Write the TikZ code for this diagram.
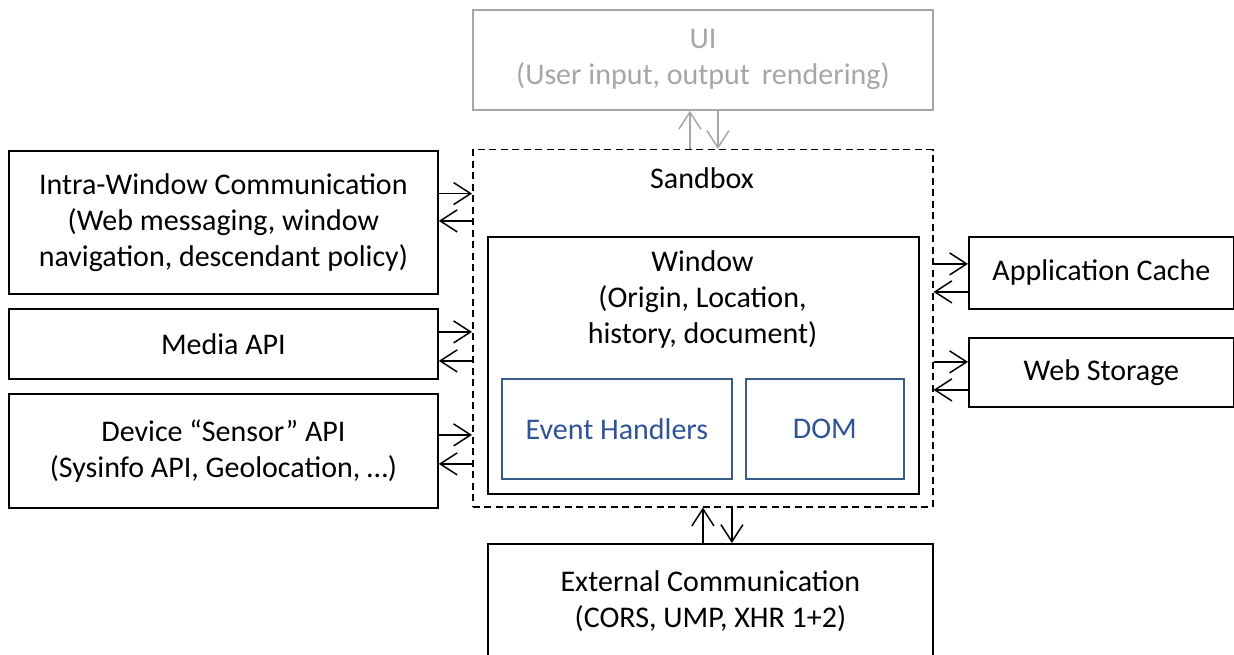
\documentclass[tikz,border=0pt]{standalone}
\usepackage{fontspec}
\setmainfont{Carlito}
\usetikzlibrary{arrows.meta,calc}
\definecolor{uigray}{RGB}{166,166,166}
\definecolor{eblue}{RGB}{56,93,138}
\definecolor{etext}{RGB}{47,84,150}
\tikzset{
  txt/.style={align=center, inner sep=0pt, font=\fontsize{30}{36}\selectfont},
  box/.style={draw, line width=1.8pt, inner sep=0pt, anchor=north west, txt},
  uibox/.style={box, draw=uigray, text=uigray},
  bluebox/.style={box, draw=eblue, text=etext},
  dbox/.style={draw, line width=1.5pt, dash pattern=on 7pt off 4.5pt, inner sep=0pt, anchor=north west},
  arr/.style={line width=1.5pt, -{Straight Barb[length=17pt,width=22pt]}},
  uiarr/.style={arr, draw=uigray}
}
\begin{document}
\begin{tikzpicture}[x=1pt,y=-1pt]
\useasboundingbox (0,0) rectangle (1234,655);
\clip (0,0) rectangle (1234,655);
% boxes
\node[uibox, minimum width=460, minimum height=100] (ui) at (472,9) {UI\\(User input, output\ \,rendering)};
\node[dbox, minimum width=460, minimum height=357] (sandbox) at (472,149) {};
\node[txt] (sblabel) at (702,178) {Sandbox};
\node[box, minimum width=431, minimum height=257] (win) at (487,236) {};
\node[txt] (wintxt) at (702.5,300) {Window\\(Origin, Location,\\history, document)};
\node[bluebox, minimum width=230, minimum height=100] (ev) at (501,378) {Event Handlers};
\node[bluebox, minimum width=158, minimum height=100] (dom) at (745,378) {DOM};
\node[box, minimum width=429, minimum height=143] (intra) at (8,150) {Intra-Window Communication\\(Web messaging, window\\navigation, descendant policy)};
\node[box, minimum width=429, minimum height=70] (media) at (8,308) {Media API};
\node[box, minimum width=429, minimum height=114] (device) at (8,393) {Device \textquotedblleft Sensor\textquotedblright{} API\\(Sysinfo API, Geolocation, \ldots)};
\node[box, minimum width=265, minimum height=72] (cache) at (968,236) {Application Cache};
\node[box, minimum width=265, minimum height=69] (storage) at (968,337) {Web Storage};
\node[box, minimum width=445, minimum height=115] (ext) at (487,543) {External Communication\\(CORS, UMP, XHR 1+2)};
% connectors left
\draw[arr] ([yshift=28.8pt]intra.east) -- ([yshift=28.8pt]intra.east -| sandbox.west);
\draw[arr] ([yshift=1.5pt]intra.east -| sandbox.west) -- ([yshift=1.5pt]intra.east);
\draw[arr] ([yshift=12pt]media.east) -- ([yshift=12pt]media.east -| sandbox.west);
\draw[arr] ([yshift=-17pt]media.east -| sandbox.west) -- ([yshift=-17pt]media.east);
\draw[arr] ([yshift=16pt]device.east) -- ([yshift=16pt]device.east -| sandbox.west);
\draw[arr] ([yshift=-13pt]device.east -| sandbox.west) -- ([yshift=-13pt]device.east);
% connectors right
\draw[arr] ([yshift=9pt]cache.west -| sandbox.east) -- ([yshift=9pt]cache.west);
\draw[arr] ([yshift=-19pt]cache.west) -- ([yshift=-19pt]cache.west -| sandbox.east);
\draw[arr] ([yshift=10.5pt]storage.west -| sandbox.east) -- ([yshift=10.5pt]storage.west);
\draw[arr] ([yshift=-17.5pt]storage.west) -- ([yshift=-17.5pt]storage.west -| sandbox.east);
% UI connectors
\draw[uiarr] ([xshift=-13pt]ui.south |- sandbox.north) -- ([xshift=-13pt]ui.south);
\draw[uiarr] ([xshift=15pt]ui.south) -- ([xshift=15pt]ui.south |- sandbox.north);
% external connectors
\draw[arr] ([xshift=-7.5pt]ext.north) -- ([xshift=-7.5pt]ext.north |- sandbox.south);
\draw[arr] ([xshift=21.5pt]ext.north |- sandbox.south) -- ([xshift=21.5pt]ext.north);
\end{tikzpicture}
\end{document}
